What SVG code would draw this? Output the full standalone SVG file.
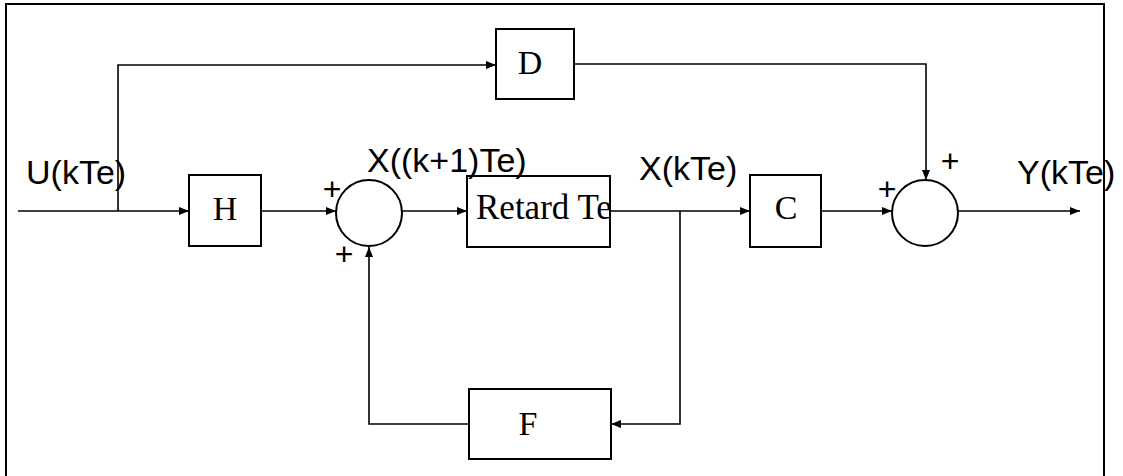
<svg xmlns="http://www.w3.org/2000/svg" width="1123" height="476" viewBox="0 0 1123 476">
<style>
.frame{fill:none;stroke:#000;stroke-width:2}
.box{fill:#fff;stroke:#000;stroke-width:2}
.sum{fill:#fff;stroke:#000;stroke-width:2}
.wire{fill:none;stroke:#000;stroke-width:1.6}
.serif{font-family:"Liberation Serif","Times New Roman",serif;font-size:34px;fill:#000}
.sans{font-family:"Liberation Sans",Arial,sans-serif;font-size:34px;fill:#000}
.plus{font-family:"Liberation Sans",Arial,sans-serif;font-size:32px;fill:#000;text-anchor:middle}
</style>
<defs>
<marker id="arr" viewBox="0 0 10 8" refX="10" refY="4" markerWidth="10" markerHeight="8" markerUnits="userSpaceOnUse" orient="auto">
<path d="M0,0 L10,4 L0,8 z" fill="#000"/>
</marker>
</defs>
<rect width="1123" height="476" fill="#fff"/>
<path class="frame" d="M6,476 V4 H1104 V476"/>
<g id="connectors">
<path class="wire" d="M18,211 H189" marker-end="url(#arr)"/>
<path class="wire" d="M118,211 V65 H496" marker-end="url(#arr)"/>
<path class="wire" d="M261,211 H336" marker-end="url(#arr)"/>
<path class="wire" d="M402,211 H467" marker-end="url(#arr)"/>
<path class="wire" d="M610,211 H750" marker-end="url(#arr)"/>
<path class="wire" d="M680,211 V424 H611" marker-end="url(#arr)"/>
<path class="wire" d="M469,424 H369 V247" marker-end="url(#arr)"/>
<path class="wire" d="M821,211 H892" marker-end="url(#arr)"/>
<path class="wire" d="M574,64 H926 V180" marker-end="url(#arr)"/>
<path class="wire" d="M958,211 H1080" marker-end="url(#arr)"/>
</g>
<g id="node-D">
<rect class="box" x="496" y="29" width="78" height="70"/>
<text class="serif" x="530" y="74" text-anchor="middle">D</text>
</g>
<g id="node-H">
<rect class="box" x="189" y="175" width="72" height="71"/>
<text class="serif" x="225" y="220" text-anchor="middle">H</text>
</g>
<g id="node-sum1">
<circle class="sum" cx="369" cy="213" r="33"/>
<text class="plus" x="332" y="200">+</text>
<text class="plus" x="344" y="265">+</text>
</g>
<g id="node-retard">
<rect class="box" x="467" y="176" width="143" height="71"/>
<text class="serif" x="476" y="219" style="font-size:35px">Retard Te</text>
</g>
<g id="node-C">
<rect class="box" x="750" y="175" width="71" height="72"/>
<text class="serif" x="786" y="219" text-anchor="middle">C</text>
</g>
<g id="node-sum2">
<circle class="sum" cx="925" cy="213" r="33"/>
<text class="plus" x="887" y="200">+</text>
<text class="plus" x="950" y="172">+</text>
</g>
<g id="node-F">
<rect class="box" x="469" y="389" width="142" height="70"/>
<text class="serif" x="528" y="435" text-anchor="middle">F</text>
</g>
<g id="labels">
<text class="sans" x="26" y="184">U(kTe)</text>
<text class="sans" x="367" y="172">X((k+1)Te)</text>
<text class="sans" x="639" y="180">X(kTe)</text>
<text class="sans" x="1017" y="184">Y(kTe)</text>
</g>
</svg>
